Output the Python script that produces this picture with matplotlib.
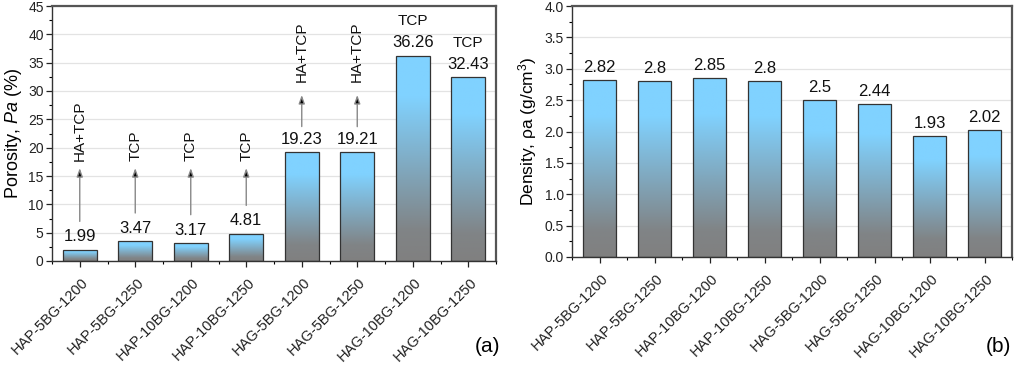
import numpy as np
import matplotlib
matplotlib.use("Agg")
import matplotlib.pyplot as plt
from matplotlib.ticker import MultipleLocator, AutoMinorLocator
from matplotlib.colors import LinearSegmentedColormap

plt.rcParams['font.family'] = ['Liberation Sans', 'DejaVu Sans']
plt.rcParams['mathtext.fontset'] = 'custom'
plt.rcParams['mathtext.rm'] = 'Liberation Sans'
plt.rcParams['mathtext.it'] = 'Liberation Sans:italic'

# ---- data ----
categories = ["HAP-5BG-1200", "HAP-5BG-1250", "HAP-10BG-1200", "HAP-10BG-1250",
              "HAG-5BG-1200", "HAG-5BG-1250", "HAG-10BG-1200", "HAG-10BG-1250"]
porosity = [1.99, 3.47, 3.17, 4.81, 19.23, 19.21, 36.26, 32.43]
porosity_labels = ["1.99", "3.47", "3.17", "4.81", "19.23", "19.21", "36.26", "32.43"]
density = [2.82, 2.80, 2.85, 2.80, 2.50, 2.44, 1.93, 2.02]
density_labels = ["2.82", "2.8", "2.85", "2.8", "2.5", "2.44", "1.93", "2.02"]
phases = ["HA+TCP", "TCP", "TCP", "TCP", "HA+TCP", "HA+TCP", "TCP", "TCP"]

BLUE = np.array([0x80, 0xD2, 0xFF]) / 255
GRAY = np.array([0x80, 0x80, 0x80]) / 255
cmap = LinearSegmentedColormap.from_list(
    "g", [(0.0, GRAY), (0.15, GRAY * 0.95 + BLUE * 0.05), (0.8, BLUE), (1.0, BLUE)])

fig = plt.figure(figsize=(10.24, 3.65), dpi=100)
axA = fig.add_axes([52 / 1024, 1 - 261 / 365, (496 - 52) / 1024, (261 - 6) / 365])
axB = fig.add_axes([572 / 1024, 1 - 257 / 365, (1012 - 572) / 1024, (257 - 6) / 365])

grad = np.linspace(0, 1, 256).reshape(-1, 1)


def draw_bars(ax, values, width=0.61):
    x = np.arange(len(values))
    bars = ax.bar(x, values, width=width, facecolor='none', edgecolor='#333333',
                  linewidth=0.9, zorder=3)
    for b in bars:
        x0, y0 = b.get_x(), b.get_y()
        w, h = b.get_width(), b.get_height()
        im = ax.imshow(grad, cmap=cmap, origin='lower', aspect='auto',
                       extent=[x0, x0 + w, y0, y0 + h], zorder=2,
                       interpolation='bilinear')
        im.set_clip_path(b)
    return bars


def style(ax, ymax, ystep):
    ax.set_xlim(-0.5, len(categories) - 0.5)
    ax.set_ylim(0, ymax)
    ax.yaxis.set_major_locator(MultipleLocator(ystep))
    ax.yaxis.set_minor_locator(AutoMinorLocator(2))
    ax.set_xticks(np.arange(len(categories)))
    ax.set_xticks(np.arange(len(categories) + 1) - 0.5, minor=True)
    ax.grid(axis='y', which='major', color='#e3e3e3', linewidth=0.9, zorder=0)
    ax.set_axisbelow(True)
    ax.tick_params(axis='both', which='major', direction='out', length=4,
                   width=0.9, labelsize=10, colors='#222222', pad=2)
    ax.tick_params(axis='both', which='minor', direction='out', length=2.5, width=0.8)
    ax.set_xticklabels(categories, rotation=45, ha='right', va='center',
                       rotation_mode='anchor', fontsize=10.5)
    for lab in ax.get_xticklabels():
        lab.set_transform(lab.get_transform() +
                          matplotlib.transforms.ScaledTranslation(4.5 / 72, -8 / 72, fig.dpi_scale_trans))
    for s in ['left', 'bottom']:
        ax.spines[s].set_color('#333333')
        ax.spines[s].set_linewidth(1.0)
    for s in ['top', 'right']:
        ax.spines[s].set_color('#555555')
        ax.spines[s].set_linewidth(1.6)


# ---- panel (a) ----
draw_bars(axA, porosity)
style(axA, 45, 5)
axA.set_ylabel("Porosity, $\\it{Pa}$ (%)", fontsize=13, labelpad=3)
for i, (v, t) in enumerate(zip(porosity, porosity_labels)):
    axA.annotate(t, xy=(i, v), xytext=(0, 6), textcoords='offset points',
                 ha='center', va='baseline', fontsize=12, color='#111111')

for i, ph in enumerate(phases):
    v = porosity[i]
    if i < 6:
        end = 16.4 if i < 4 else 29.3
        start = v + 5.0 if i < 4 else v + 4.5
        gap = 1.3 if i < 4 else 2.2
        axA.annotate("", xy=(i, end), xytext=(i, start),
                     arrowprops=dict(arrowstyle='-|>,head_length=0.5,head_width=0.18',
                                     fc='black', ec='#888888', lw=1.0,
                                     shrinkA=0, shrinkB=0))
        axA.text(i, end + gap, ph, rotation=90, ha='center', va='bottom',
                 fontsize=11, color='#111111')
    else:
        axA.annotate(ph, xy=(i, v), xytext=(0, 22), textcoords='offset points',
                     ha='center', va='baseline', fontsize=11, color='#111111')

fig.text(487 / 1024, 1 - 346 / 365, "(a)", fontsize=15, ha='center', va='center')

# ---- panel (b) ----
draw_bars(axB, density)
style(axB, 4.0, 0.5)
axB.yaxis.set_major_formatter(matplotlib.ticker.FormatStrFormatter('%.1f'))
axB.set_ylabel("Density, ρa (g/cm$^{3}$)", fontsize=12.5, labelpad=4)
for i, (v, t) in enumerate(zip(density, density_labels)):
    axB.annotate(t, xy=(i, v), xytext=(0, 6), textcoords='offset points',
                 ha='center', va='baseline', fontsize=12, color='#111111')

fig.text(998 / 1024, 1 - 346 / 365, "(b)", fontsize=15, ha='center', va='center')

fig.savefig("out.png", dpi=100)
